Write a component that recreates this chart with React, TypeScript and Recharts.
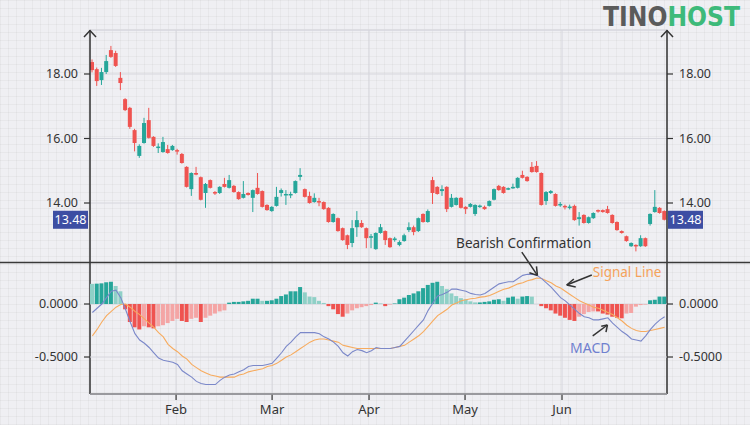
import React from 'react';
import { ComposedChart, Bar, Line, XAxis, YAxis, CartesianGrid, ReferenceLine, ReferenceDot, Cell } from 'recharts';

// ---------- data ----------
const opens = [
  18.37, 18.15, 17.81, 18.06, 18.74, 18.65, 17.88, 17.22, 16.95, 16.26,
  15.46, 15.86, 16.57, 16.05, 15.72, 15.58, 15.67, 15.64, 15.64, 15.52,
  15.12, 14.43, 14.93, 14.8, 14.31, 14.71, 14.34, 14.31, 14.59, 14.47,
  14.53, 14.34, 14.16, 14.31, 14.16, 14.47, 14.37, 13.94, 13.75, 13.91,
  14.31, 14.25, 14.26, 14.31, 14.81, 14.43, 14.22, 14.03, 14.06, 14.03,
  13.85, 13.41, 13.53, 13.22, 13.0, 12.76, 13.25, 13.38, 13.22, 12.94,
  12.57, 13.07, 13.13, 12.91, 12.85, 12.7, 12.82, 13.16, 13.25, 13.13,
  13.66, 13.41, 14.71, 14.5, 14.37, 14.5, 13.88, 13.94, 14.16, 13.88,
  13.88, 13.66, 13.9, 13.88, 13.91, 14.1, 14.53, 14.5, 14.43, 14.46,
  14.47, 14.87, 14.81, 15.12, 15.15, 14.93, 14.06, 14.31, 14.28, 13.94,
  13.91, 13.87, 13.91, 13.5, 13.63, 13.38, 13.53, 13.78, 13.78, 13.81,
  13.63, 13.41, 13.13, 12.97, 12.66, 12.7, 12.66, 12.91, 13.35, 13.72,
  13.85, 13.75,
];
const closes = [
  18.12, 17.78, 18.06, 18.4, 18.53, 18.25, 17.72, 16.88, 16.36, 15.86,
  15.77, 16.48, 16.02, 15.77, 15.75, 15.89, 15.55, 15.77, 15.6, 15.24,
  14.5, 14.93, 14.88, 14.1, 14.59, 14.47, 14.3, 14.5, 14.5, 14.71,
  14.34, 14.12, 14.28, 14.25, 14.4, 14.28, 13.88, 13.78, 13.88, 14.19,
  14.4, 14.28, 14.28, 14.68, 14.87, 14.19, 14.0, 14.16, 14.03, 13.81,
  13.41, 13.66, 13.13, 12.85, 12.7, 13.22, 13.47, 13.25, 12.91, 12.97,
  13.07, 13.25, 12.85, 12.63, 12.9, 12.79, 13.0, 13.25, 13.1, 13.53,
  13.41, 13.75, 14.31, 14.28, 14.43, 13.81, 14.16, 14.16, 13.85, 13.81,
  13.97, 13.94, 13.92, 13.81, 14.06, 14.43, 14.4, 14.31, 14.46, 14.5,
  14.78, 14.78, 14.68, 14.96, 14.96, 13.94, 14.34, 14.37, 13.91, 13.97,
  13.88, 13.89, 13.47, 13.56, 13.38, 13.56, 13.69, 13.75, 13.72, 13.69,
  13.38, 13.16, 13.07, 12.82, 12.76, 12.66, 12.91, 12.66, 13.66, 13.88,
  13.69, 13.48,
];
const highs = [
  18.45, 18.2, 18.19, 18.59, 18.87, 18.72, 18.06, 17.25, 16.98, 16.3,
  15.82, 16.64, 16.95, 16.07, 15.85, 16.05, 15.8, 15.8, 15.68, 15.55,
  15.14, 14.95, 15.12, 14.82, 14.62, 14.73, 14.37, 14.52, 14.78, 14.87,
  14.56, 14.36, 14.68, 14.33, 14.42, 14.93, 14.39, 13.96, 13.9, 14.5,
  14.45, 14.4, 14.35, 14.7, 15.08, 14.45, 14.35, 14.3, 14.16, 14.05,
  13.87, 13.68, 13.55, 13.24, 13.02, 13.47, 13.75, 13.47, 13.24, 13.04,
  13.09, 13.35, 13.15, 12.93, 12.95, 12.84, 13.05, 13.4, 13.3, 13.55,
  13.68, 13.8, 14.81, 14.52, 14.55, 14.52, 14.28, 14.18, 14.18, 13.9,
  14.0, 13.96, 13.95, 13.92, 14.08, 14.45, 14.56, 14.52, 14.48, 14.6,
  14.8, 15.0, 14.83, 15.27, 15.3, 14.95, 14.37, 14.4, 14.3, 14.03,
  13.95, 13.95, 13.95, 13.72, 13.65, 13.58, 13.71, 13.8, 13.8, 13.91,
  13.65, 13.43, 13.15, 12.99, 12.78, 12.72, 13.0, 12.93, 13.68, 14.4,
  13.87, 13.77,
];
const lows = [
  18.05, 17.63, 17.66, 18.0, 18.5, 18.22, 17.5, 16.85, 16.3, 15.6,
  15.4, 15.84, 16.0, 15.74, 15.55, 15.56, 15.53, 15.62, 15.5, 15.22,
  14.48, 14.22, 14.86, 14.08, 13.85, 14.45, 14.25, 14.28, 14.48, 14.45,
  14.32, 14.1, 14.14, 14.23, 13.72, 14.26, 13.86, 13.76, 13.73, 13.89,
  14.2, 13.94, 14.15, 14.29, 14.7, 14.17, 13.98, 14.01, 13.9, 13.79,
  13.39, 13.39, 13.11, 12.83, 12.57, 12.63, 12.95, 13.23, 12.6, 12.6,
  12.55, 13.05, 12.7, 12.61, 12.8, 12.66, 12.8, 13.1, 13.0, 13.1,
  13.39, 13.39, 13.97, 14.26, 14.22, 13.72, 13.86, 13.92, 13.83, 13.66,
  13.86, 13.6, 13.85, 13.79, 13.89, 14.08, 14.38, 14.29, 14.4, 14.44,
  14.45, 14.76, 14.66, 14.94, 14.94, 13.92, 13.94, 14.28, 13.89, 13.88,
  13.8, 13.8, 13.45, 13.3, 13.36, 13.36, 13.51, 13.7, 13.7, 13.67,
  13.36, 13.14, 13.05, 12.8, 12.64, 12.5, 12.64, 12.64, 13.3, 13.7,
  13.67, 13.46,
];
const macdValues = [
  -0.08, -0.04, 0.0, 0.06, 0.12, 0.13, 0.06, -0.05, -0.17, -0.28,
  -0.34, -0.37, -0.41, -0.46, -0.51, -0.53, -0.54, -0.55, -0.57, -0.63,
  -0.66, -0.69, -0.73, -0.75, -0.76, -0.76, -0.76, -0.72, -0.69, -0.67,
  -0.66, -0.64, -0.62, -0.59, -0.58, -0.58, -0.58, -0.57, -0.56, -0.51,
  -0.46, -0.40, -0.36, -0.31, -0.27, -0.27, -0.27, -0.27, -0.28, -0.31,
  -0.33, -0.36, -0.40, -0.46, -0.49, -0.45, -0.43, -0.44, -0.46, -0.44,
  -0.41, -0.42, -0.42, -0.42, -0.41, -0.40, -0.35, -0.30, -0.25, -0.20,
  -0.15, -0.06, 0.01, 0.075, 0.09, 0.11, 0.14, 0.14, 0.13, 0.12,
  0.10, 0.09, 0.085, 0.10, 0.13, 0.16, 0.19, 0.20, 0.21, 0.21,
  0.24, 0.27, 0.28, 0.28, 0.27, 0.24, 0.20, 0.16, 0.11, 0.06,
  0.03, -0.01, -0.05, -0.09, -0.12, -0.13, -0.15, -0.15, -0.14, -0.13,
  -0.18, -0.22, -0.26, -0.29, -0.33, -0.34, -0.35, -0.30, -0.24, -0.19,
  -0.15, -0.12,
];
const signalValues = [
  -0.30, -0.24, -0.17, -0.11, -0.07, -0.03, -0.005, 0.0, -0.03, -0.07,
  -0.10, -0.14, -0.18, -0.22, -0.27, -0.31, -0.38, -0.42, -0.45, -0.49,
  -0.52, -0.57, -0.60, -0.63, -0.65, -0.67, -0.68, -0.69, -0.69, -0.69,
  -0.69, -0.67, -0.66, -0.64, -0.63, -0.62, -0.61, -0.59, -0.58, -0.56,
  -0.53, -0.50, -0.48, -0.45, -0.42, -0.39, -0.36, -0.34, -0.33, -0.33,
  -0.34, -0.35, -0.36, -0.39, -0.40, -0.41, -0.42, -0.42, -0.42, -0.42,
  -0.42, -0.42, -0.42, -0.42, -0.41, -0.40, -0.39, -0.36, -0.33, -0.30,
  -0.26, -0.21, -0.16, -0.11, -0.08, -0.05, -0.01, 0.01, 0.03, 0.04,
  0.05, 0.055, 0.065, 0.07, 0.08, 0.10, 0.12, 0.14, 0.15, 0.17,
  0.19, 0.20, 0.22, 0.23, 0.245, 0.24, 0.22, 0.20, 0.17, 0.15,
  0.12, 0.09, 0.06, 0.03, 0.01, -0.01, -0.03, -0.04, -0.06, -0.08,
  -0.10, -0.13, -0.16, -0.20, -0.23, -0.25, -0.26, -0.26, -0.25, -0.24,
  -0.23, -0.22,
];
const histValues = [
  0.19, 0.192, 0.195, 0.205, 0.21, 0.17, 0.12, -0.05, -0.17, -0.22,
  -0.24, -0.21, -0.22, -0.23, -0.21, -0.2, -0.18, -0.16, -0.14, -0.16,
  -0.17, -0.14, -0.13, -0.17, -0.13, -0.11, -0.09, -0.07, -0.06, 0.013,
  0.02, 0.02, 0.025, 0.03, 0.05, 0.05, 0.03, 0.03, 0.035, 0.05,
  0.075, 0.09, 0.12, 0.12, 0.16, 0.11, 0.07, 0.065, 0.03, 0.01,
  -0.02, -0.05, -0.095, -0.12, -0.09, -0.06, -0.04, -0.03, -0.02, -0.01,
  0.013, 0.005, -0.02, -0.005, 0.005, 0.045, 0.06, 0.085, 0.1, 0.12,
  0.15, 0.18, 0.2, 0.21, 0.17, 0.14, 0.1, 0.075, 0.055, 0.045,
  0.025, 0.015, 0.015, 0.02, 0.025, 0.04, 0.045, 0.03, 0.06, 0.07,
  0.05, 0.07, 0.075, 0.07, 0.0, -0.02, -0.04, -0.06, -0.09, -0.11,
  -0.13, -0.15, -0.16, -0.12, -0.095, -0.075, -0.07, -0.07, -0.09, -0.1,
  -0.12, -0.13, -0.135, -0.09, -0.085, -0.025, -0.01, -0.005, 0.035, 0.04,
  0.07, 0.07,
];
const monthTicks = [17.7, 38, 58.5, 78.8, 99.3];
const monthLabels = ['Feb', 'Mar', 'Apr', 'May', 'Jun'];
const priceTicks = [14, 16, 18];
const macdTicks = [-0.5, 0];
const lastPrice = 13.48;

const annotationArrows = [
  { from: [90.8, 0.49], to: [94.1, 0.27], arms: [[93.9, 0.355], [92.4, 0.295]] },
  { from: [105.6, 0.274], to: [100.3, 0.179], arms: [[101.8, 0.236], [102.2, 0.16]] },
  { from: [105.8, -0.30], to: [108.9, -0.198], arms: [[107.6, -0.21], [108.6, -0.265]] },
];
const annotationTexts = [
  { text: 'Bearish Confirmation', at: [91.2, 0.575], anchor: 'middle', color: '#333333', size: 13.5 },
  { text: 'Signal Line', at: [105.8, 0.3], anchor: 'start', color: '#f5a25a', size: 13.5 },
  { text: 'MACD', at: [101.0, -0.41], anchor: 'start', color: '#6f80cf', size: 14 },
];

const data = opens.map((o, i) => ({
  i,
  open: o,
  close: closes[i],
  high: highs[i],
  low: lows[i],
  macd: macdValues[i],
  signal: signalValues[i],
  hist: histValues[i],
}));

// ---------- styles ----------
const FONT = '"Noto Sans", "Open Sans", sans-serif';
const TEAL = '#26a69a';
const LIGHT_TEAL = '#8fd0c7';
const RED = '#ef5350';
const LIGHT_RED = '#f4a5a5';
const AXIS = '#333333';
const GRID = '#d6d6dd';
const W = 750;
const H = 425;
const MARGIN = { top: 30, right: 23, bottom: 0, left: 30 };
const X_DOMAIN: [number, number] = [-0.5, 121.5];
const PRICE_DOMAIN: [number, number] = [8.078, 19.364];
const MACD_DOMAIN: [number, number] = [-0.849, 2.585];

function histColor(k: number) {
  const v = histValues[k];
  const prev = k > 0 ? histValues[k - 1] : v - 0.0001 * Math.sign(v || 1) * -1;
  if (v >= 0) return v >= prev && k > 0 ? TEAL : (k === 0 ? LIGHT_TEAL : LIGHT_TEAL);
  return v <= prev ? RED : LIGHT_RED;
}

const Candle = (props: any) => {
  const { x, y, width, height, payload } = props;
  if (x == null || y == null || !payload) return null;
  const top = Math.min(y, y + height);
  const h = Math.abs(height);
  const { open, close, high, low } = payload;
  const range = high - low || 1;
  const toY = (v: number) => top + ((high - v) / range) * h;
  const color = close >= open ? TEAL : RED;
  const bTop = toY(Math.max(open, close));
  const bBot = toY(Math.min(open, close));
  const cx = x + width / 2;
  return (
    <g>
      <line x1={cx} x2={cx} y1={top} y2={top + h} stroke={color} strokeWidth={1} />
      <rect x={x} y={bTop} width={width} height={Math.max(1.5, bBot - bTop)} fill={color} />
    </g>
  );
};

const tickStyle = { fill: AXIS, fontSize: 12.5, fontFamily: FONT };

const PriceTag = (side: 'left' | 'right') => (p: any) => {
  const { cx, cy } = p;
  if (cx == null || cy == null) return <g />;
  const w = 35;
  const x = side === 'left' ? cx - w - 2 : cx + 1;
  return (
    <g>
      <rect x={x} y={cy - 9} width={w} height={18} fill="#3d4ea3" />
      <text x={x + w / 2} y={cy} fill="#ffffff" fontSize={12.5} fontFamily={FONT} textAnchor="middle" dominantBaseline="central">
        {lastPrice.toFixed(2)}
      </text>
    </g>
  );
};

export default function App() {
  return (
    <div
      style={{
        position: 'absolute',
        left: 0,
        top: 0,
        width: W,
        height: H,
        overflow: 'hidden',
        backgroundColor: '#efeff3',
        backgroundImage:
          'linear-gradient(to right, rgba(0,0,0,0.035) 1px, transparent 1px), linear-gradient(to bottom, rgba(0,0,0,0.035) 1px, transparent 1px)',
        backgroundSize: '8px 8px',
        fontFamily: FONT,
      }}
    >
      {/* price pane + shared axes */}
      <div style={{ position: 'absolute', left: 0, top: 0 }}>
        <ComposedChart width={W} height={H} data={data} margin={MARGIN}>
          <CartesianGrid stroke={GRID} strokeWidth={1} fill="none" />
          <XAxis
            dataKey="i"
            type="number"
            domain={X_DOMAIN}
            allowDataOverflow
            ticks={monthTicks}
            interval={0}
            tickFormatter={(v: number) => monthLabels[monthTicks.indexOf(v)] ?? ''}
            height={31}
            tickSize={6}
            tickMargin={5}
            axisLine={{ stroke: AXIS, strokeWidth: 1.5 }}
            tickLine={{ stroke: AXIS, strokeWidth: 1.2 }}
            tick={{ ...tickStyle, fontSize: 13 }}
          />
          <YAxis
            type="number"
            domain={PRICE_DOMAIN}
            allowDataOverflow
            ticks={priceTicks}
            interval={0}
            width={60}
            tickSize={6}
            tickMargin={6}
            tickFormatter={(v: number) => v.toFixed(2)}
            axisLine={{ stroke: AXIS, strokeWidth: 1.5 }}
            tickLine={{ stroke: AXIS, strokeWidth: 1.2 }}
            tick={tickStyle}
          />
          <YAxis
            yAxisId="right"
            orientation="right"
            type="number"
            domain={PRICE_DOMAIN}
            allowDataOverflow
            ticks={priceTicks}
            interval={0}
            width={60}
            tickSize={6}
            tickMargin={6}
            tickFormatter={(v: number) => v.toFixed(2)}
            axisLine={{ stroke: AXIS, strokeWidth: 1.5 }}
            tickLine={{ stroke: AXIS, strokeWidth: 1.2 }}
            tick={tickStyle}
          />
          <Bar
            dataKey={(d: any) => [d.low, d.high]}
            barSize={4}
            shape={Candle}
            isAnimationActive={false}
          />
          <ReferenceDot x={X_DOMAIN[0]} y={lastPrice} r={1} ifOverflow="visible" shape={PriceTag('left')} />
          <ReferenceDot x={X_DOMAIN[1]} y={lastPrice} r={1} ifOverflow="visible" shape={PriceTag('right')} />
        </ComposedChart>
      </div>

      {/* MACD pane */}
      <div style={{ position: 'absolute', left: 0, top: 0 }}>
        <ComposedChart width={W} height={H} data={data} margin={MARGIN}>
          <CartesianGrid stroke={GRID} strokeWidth={1} vertical={false} fill="none" />
          <XAxis
            dataKey="i"
            type="number"
            domain={X_DOMAIN}
            allowDataOverflow
            ticks={monthTicks}
            height={31}
            tick={false}
            tickLine={false}
            axisLine={false}
          />
          <YAxis
            type="number"
            domain={MACD_DOMAIN}
            allowDataOverflow
            ticks={macdTicks}
            interval={0}
            width={60}
            tickSize={6}
            tickMargin={6}
            tickFormatter={(v: number) => v.toFixed(4)}
            axisLine={false}
            tickLine={{ stroke: AXIS, strokeWidth: 1.2 }}
            tick={tickStyle}
          />
          <YAxis
            yAxisId="right"
            orientation="right"
            type="number"
            domain={MACD_DOMAIN}
            allowDataOverflow
            ticks={macdTicks}
            interval={0}
            width={60}
            tickSize={6}
            tickMargin={6}
            tickFormatter={(v: number) => v.toFixed(4)}
            axisLine={false}
            tickLine={{ stroke: AXIS, strokeWidth: 1.2 }}
            tick={tickStyle}
          />
          <Bar dataKey="hist" barSize={4} isAnimationActive={false}>
            {data.map((_, k) => (
              <Cell key={k} fill={histColor(k)} />
            ))}
          </Bar>
          <Line type="linear" dataKey="signal" stroke="#f7ab5e" strokeWidth={1.1} dot={false} activeDot={false} isAnimationActive={false} />
          <Line type="linear" dataKey="macd" stroke="#7b88c9" strokeWidth={1.1} dot={false} activeDot={false} isAnimationActive={false} />
          {annotationArrows.map((a, k) => (
            <React.Fragment key={'arr' + k}>
              <ReferenceLine
                ifOverflow="visible"
                stroke="#333"
                strokeWidth={1.5}
                segment={[{ x: a.from[0], y: a.from[1] }, { x: a.to[0], y: a.to[1] }]}
              />
              {a.arms.map((arm, j) => (
                <ReferenceLine
                  key={'arm' + j}
                  ifOverflow="visible"
                  stroke="#333"
                  strokeWidth={1.5}
                  segment={[{ x: a.to[0], y: a.to[1] }, { x: arm[0], y: arm[1] }]}
                />
              ))}
            </React.Fragment>
          ))}
          {annotationTexts.map((t, k) => (
            <ReferenceDot
              key={'txt' + k}
              x={t.at[0]}
              y={t.at[1]}
              r={1}
              ifOverflow="visible"
              shape={(p: any) => (
                <text
                  x={p.cx}
                  y={p.cy}
                  fill={t.color}
                  fontSize={t.size}
                  fontFamily={FONT}
                  textAnchor={t.anchor as any}
                  dominantBaseline="central"
                >
                  {t.text}
                </text>
              )}
            />
          ))}
        </ComposedChart>
      </div>

      {/* decorations */}
      <svg width={W} height={H} style={{ position: 'absolute', left: 0, top: 0, pointerEvents: 'none' }}>
        <line x1={0} x2={W} y1={262.5} y2={262.5} stroke="#3a3a3a" strokeWidth={1.4} />
        <polyline points="84,37 90,30.5 96,37" fill="none" stroke={AXIS} strokeWidth={1.5} />
        <polyline points="661,37 667,30.5 673,37" fill="none" stroke={AXIS} strokeWidth={1.5} />
        <text
          x={603}
          y={26}
          fontFamily='"DejaVu Sans Condensed", "Liberation Sans Narrow", sans-serif'
          fontWeight="bold"
          fontSize={27}
          textLength={137}
          lengthAdjust="spacingAndGlyphs"
        >
          <tspan fill="#5b5b5b">TINO</tspan>
          <tspan fill="#3dba7a">HOST</tspan>
        </text>
      </svg>
    </div>
  );
}
